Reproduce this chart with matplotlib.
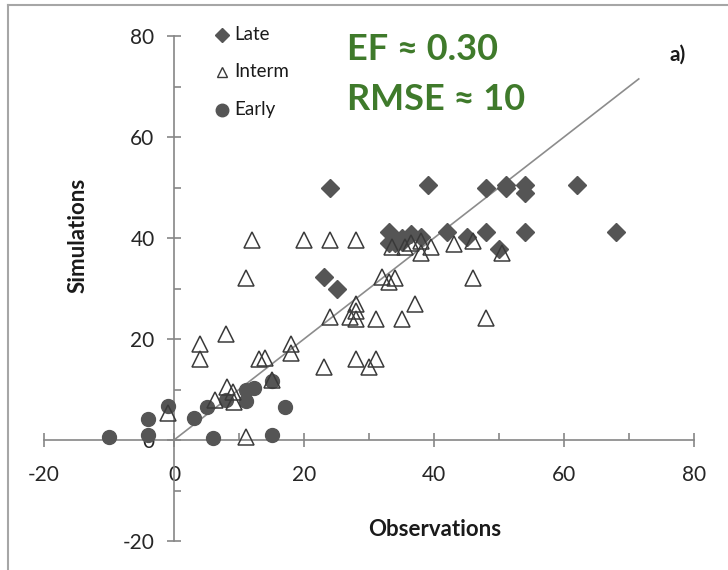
import matplotlib
matplotlib.use('Agg')
import matplotlib.pyplot as plt
from matplotlib.lines import Line2D

plt.rcParams['font.family'] = ['Lato', 'DejaVu Sans']
plt.rcParams['axes.unicode_minus'] = False

# Late (diamonds)
late_obs = [24, 39, 48, 51, 51, 54, 54, 62, 68, 54, 48, 42, 45, 50,
            33, 33, 35, 35, 36.5, 38, 34, 23, 25]
late_sim = [50, 50.5, 50, 50, 50.5, 50.5, 49, 50.5, 41.2, 41.2, 41.2, 41.2, 40.2, 37.8,
            41.2, 39, 39.2, 40, 40.8, 40.2, 39, 32.2, 30]

# Interm (open triangles)
interm_obs = [-1, 4, 4, 6.3, 8, 8.2, 9.1, 9.2, 11, 11, 12, 13, 14, 15, 18, 18, 20, 23,
              24, 24, 27, 28, 28, 28, 28, 28, 30, 31, 31, 32, 33, 34, 35, 33.5, 35.5,
              38, 39.5, 37, 43, 46, 46, 48, 50.5, 36.5, 38]
interm_sim = [5.3, 16, 19, 7.9, 21, 10.5, 9.5, 7.5, 0.5, 32, 39.6, 16, 16.2, 11.8, 19, 17.2, 39.6, 14.5,
              39.6, 24.4, 24.4, 39.6, 27, 25.5, 24, 16, 14.5, 16, 24, 32.3, 31.3, 32, 24, 38.2, 38.2,
              37, 38.2, 27, 38.8, 39.5, 32, 24.2, 37, 39, 39.5]

# Early (circles)
early_obs = [-10, -4, -4, -1, 3, 5, 6, 8, 11, 11, 12.3, 15, 17, 15]
early_sim = [0.5, 1, 4.2, 6.7, 4.4, 6.5, 0.3, 8, 10, 7.7, 10.2, 11.7, 6.5, 1]

one_to_one = [0, 71.5]
ticks = [-20, 0, 20, 40, 60, 80]
minor_ticks = [-10, 10, 30, 50, 70]

axis_gray = '#868686'
mark_gray = '#555555'

fig = plt.figure(figsize=(7.28, 5.70), dpi=100)
ax = fig.add_axes([44 / 728, 29 / 570, 650 / 728, 505 / 570])

ax.plot(one_to_one, one_to_one, color='#8c8c8c', lw=1.2, zorder=2)
ax.plot(early_obs, early_sim, 'o', ms=10, color=mark_gray, mec=mark_gray, clip_on=False, zorder=3)
ax.plot(late_obs, late_sim, 'D', ms=9, color=mark_gray, mec=mark_gray, clip_on=False, zorder=4)
ax.plot(interm_obs, interm_sim, '^', ms=11, mfc='none', mec='#3a3a3a', mew=1.1, clip_on=False, zorder=5)

ax.set_xlim(-20, 80)
ax.set_ylim(-20, 80)
for s in ['top', 'right']:
    ax.spines[s].set_visible(False)
for s in ['left', 'bottom']:
    ax.spines[s].set_position(('data', 0))
    ax.spines[s].set_color(axis_gray)
    ax.spines[s].set_linewidth(1.2)

ax.set_xticks(ticks)
ax.set_yticks(ticks)
ax.set_xticks(minor_ticks, minor=True)
ax.set_yticks(minor_ticks, minor=True)
ax.tick_params(which='major', direction='inout', length=10, width=1.2, color=axis_gray,
               labelsize=15, labelcolor='#262626')
ax.tick_params(which='minor', direction='in', length=5, width=1.2, color=axis_gray)
ax.tick_params(axis='x', which='major', pad=13)
ax.tick_params(axis='y', which='major', pad=9)

ax.patch.set_visible(False)

fig.text(435 / 728, 1 - 530 / 570, 'Observations', ha='center', va='center',
         fontsize=16, fontweight='bold', color='#1a1a1a')
fig.text(78 / 728, 1 - 235 / 570, 'Simulations', ha='center', va='center', rotation=90,
         fontsize=16, fontweight='bold', color='#1a1a1a')

# legend drawn by hand near top left
leg_items = [('D', 'Late', mark_gray, mark_gray, 35),
             ('^', 'Interm', 'none', '#3a3a3a', 72),
             ('o', 'Early', mark_gray, mark_gray, 110)]
for m, lab, fc, ec, ypx in leg_items:
    fig.add_artist(Line2D([222 / 728], [1 - ypx / 570], marker=m, ms=7 if m != 'o' else 9,
                          mfc=fc, mec=ec, mew=1.0, transform=fig.transFigure))
    fig.text(234 / 728, 1 - ypx / 570, lab, ha='left', va='center', fontsize=13.5, color='#1a1a1a')

fig.text(347 / 728, 1 - 49 / 570, 'EF \u2248 0.30', ha='left', va='center',
         fontsize=26, fontweight='bold', color='#3f7a2b')
fig.text(347 / 728, 1 - 99 / 570, 'RMSE \u2248 10', ha='left', va='center',
         fontsize=26, fontweight='bold', color='#3f7a2b')
fig.text(678 / 728, 1 - 55 / 570, 'a)', ha='center', va='center',
         fontsize=15, fontweight='bold', color='#1a1a1a')

# frame around the chart (left and top edges visible)
fig.add_artist(Line2D([8 / 728, 8 / 728], [0, 1 - 5 / 570], color='#a6a6a6', lw=1.5,
                      transform=fig.transFigure))
fig.add_artist(Line2D([8 / 728, 1], [1 - 5 / 570, 1 - 5 / 570], color='#a6a6a6', lw=1.5,
                      transform=fig.transFigure))

fig.savefig('out.png', dpi=100)
